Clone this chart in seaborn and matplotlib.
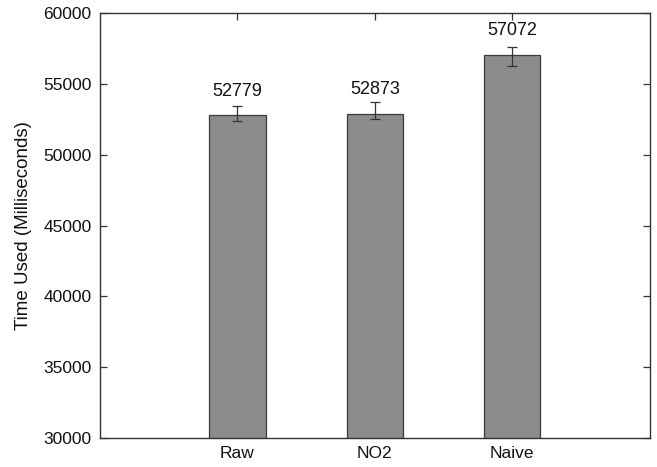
import matplotlib
matplotlib.use("Agg")
import matplotlib.pyplot as plt
import seaborn as sns
import pandas as pd
import numpy as np

methods = ["Raw", "NO2", "Naive"]
times = [52779, 52873, 57072]
err_low = [375, 380, 800]
err_high = [685, 870, 540]
y_ticks = [30000, 35000, 40000, 45000, 50000, 55000, 60000]

sns.set_theme(style="white")
plt.rcParams["font.family"] = ["Liberation Sans", "DejaVu Sans"]

df = pd.DataFrame({"method": methods, "time": times})

fig = plt.figure(figsize=(6.57, 4.67), dpi=100)
ax = fig.add_axes([0.152, 0.062, 0.837, 0.910])

sns.barplot(data=df, x="method", y="time", order=methods, color="#8c8c8c",
            saturation=1, width=0.41, edgecolor="#3a3a3a", linewidth=0.9, ax=ax)

pos = np.arange(len(methods))
ax.errorbar(pos, times, yerr=[err_low, err_high], fmt="none", ecolor="#333333",
            elinewidth=0.9, capsize=3.5, capthick=0.9, zorder=5)

for x, v in zip(pos, times):
    ax.annotate(str(v), xy=(x, v), xytext=(0, 17.5), textcoords="offset points",
                ha="center", va="center", fontsize=13, color="#111111")

ax.set_xlim(-1, 3)
ax.set_ylim(30000, 60000)
ax.set_yticks(y_ticks)
ax.set_yticklabels([str(t) for t in y_ticks])
ax.set_xlabel("")
ax.set_ylabel("Time Used (Milliseconds)", fontsize=13.5, color="#111111", labelpad=8)

for s in ax.spines.values():
    s.set_visible(True)
    s.set_color("#333333")
    s.set_linewidth(1.0)

ax.tick_params(axis="both", direction="in", length=5, width=0.9, color="#333333",
               labelsize=12.5, labelcolor="#111111", pad=6)
ax.tick_params(axis="y", right=True, left=True)
ax.tick_params(axis="x", top=True, bottom=True)

fig.savefig("out.png", dpi=100, facecolor="white")
